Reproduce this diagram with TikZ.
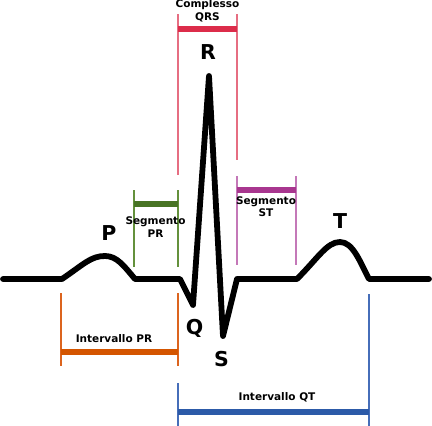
\documentclass[tikz,border=0pt]{standalone}
\usepackage{fontspec}
\setmainfont{DejaVu Sans}
\definecolor{qrsbar}{RGB}{220,44,74}
\definecolor{qrsline}{RGB}{230,110,130}
\definecolor{prsbar}{RGB}{72,116,36}
\definecolor{prsline}{RGB}{100,145,60}
\definecolor{stbar}{RGB}{168,54,143}
\definecolor{stline}{RGB}{196,120,184}
\definecolor{pribar}{RGB}{212,85,0}
\definecolor{priline}{RGB}{220,100,30}
\definecolor{qtbar}{RGB}{44,90,168}
\definecolor{qtline}{RGB}{70,110,185}
\tikzset{
  ecg/.style={line width=5.8pt, line cap=round, line join=round},
  bar/.style={line width=6pt},
  tick/.style={line width=1.2pt},
  wave/.style={font=\bfseries\fontsize{20.5}{22}\selectfont, inner sep=0pt},
  lab/.style={font=\bfseries\fontsize{10.5}{12.5}\selectfont, align=center, inner sep=0pt}
}
\begin{document}
\begin{tikzpicture}[x=1pt,y=-1pt]
\useasboundingbox (0,0) rectangle (432,426);
% ECG key points
\coordinate (start) at (3,279);
\coordinate (p0) at (62,279);
\coordinate (ppk) at (105,256);
\coordinate (p1) at (135,279);
\coordinate (q0) at (180,279);
\coordinate (qb) at (193,305);
\coordinate (rpk) at (209,76);
\coordinate (sb) at (223,336);
\coordinate (s1) at (237,279);
\coordinate (t0) at (297,279);
\coordinate (tpk) at (340,242);
\coordinate (t1) at (369,279);
\coordinate (end) at (429,279);
\draw[ecg] (start) -- (p0) .. controls (84,264) and (91,256) .. (ppk)
  .. controls (117,256) and (124,266) .. (p1) -- (q0) -- (qb) -- (rpk) -- (sb) -- (s1) -- (t0)
  .. controls (318,258) and (327,242) .. (tpk) .. controls (353,242) and (360,262) .. (t1) -- (end);
% wave labels
\node[wave] (P) at (109,233.5) {P};
\node[wave] (R) at (208,52.5) {R};
\node[wave] (Q) at (194.5,328.5) {Q};
\node[wave] (S) at (221.5,359.5) {S};
\node[wave] (T) at (340,221.5) {T};
% QRS complex
\coordinate (qrsLt) at (178,14); \coordinate (qrsLb) at (178,175);
\coordinate (qrsRt) at (237,14); \coordinate (qrsRb) at (237,160);
\coordinate (qrsA) at (178,29); \coordinate (qrsB) at (237,29);
\draw[tick,qrsline] (qrsLt) -- (qrsLb) (qrsRt) -- (qrsRb);
\draw[bar,qrsbar] (qrsA) -- (qrsB);
\node[lab] (qrs) at (207.5,11) {Complesso\\QRS};
% PR segment
\coordinate (prsLt) at (134,190); \coordinate (prsLb) at (134,267);
\coordinate (prsRt) at (178,190); \coordinate (prsRb) at (178,267);
\coordinate (prsA) at (134,204); \coordinate (prsB) at (178,204);
\draw[tick,prsline] (prsLt) -- (prsLb) (prsRt) -- (prsRb);
\draw[bar,prsbar] (prsA) -- (prsB);
\node[lab] (prs) at (155.5,227) {Segmento\\PR};
% ST segment
\coordinate (stLt) at (237,176); \coordinate (stLb) at (237,265);
\coordinate (stRt) at (296,176); \coordinate (stRb) at (296,265);
\coordinate (stA) at (237,190); \coordinate (stB) at (296,190);
\draw[tick,stline] (stLt) -- (stLb) (stRt) -- (stRb);
\draw[bar,stbar] (stA) -- (stB);
\node[lab] (st) at (266,206.5) {Segmento\\ST};
% PR interval
\coordinate (priLt) at (61,293); \coordinate (priLb) at (61,366);
\coordinate (priRt) at (178,293); \coordinate (priRb) at (178,366);
\coordinate (priA) at (61,352); \coordinate (priB) at (178,352);
\draw[tick,priline] (priLt) -- (priLb) (priRt) -- (priRb);
\draw[bar,pribar] (priA) -- (priB);
\node[lab] (pri) at (114,339) {Intervallo PR};
% QT interval
\coordinate (qtLt) at (178,383); \coordinate (qtLb) at (178,426);
\coordinate (qtRt) at (369,294); \coordinate (qtRb) at (369,426);
\coordinate (qtA) at (178,411.5); \coordinate (qtB) at (369,411.5);
\draw[tick,qtline] (qtLt) -- (qtLb) (qtRt) -- (qtRb);
\draw[bar,qtbar] (qtA) -- (qtB);
\node[lab] (qt) at (277,397) {Intervallo QT};
\end{tikzpicture}
\end{document}
